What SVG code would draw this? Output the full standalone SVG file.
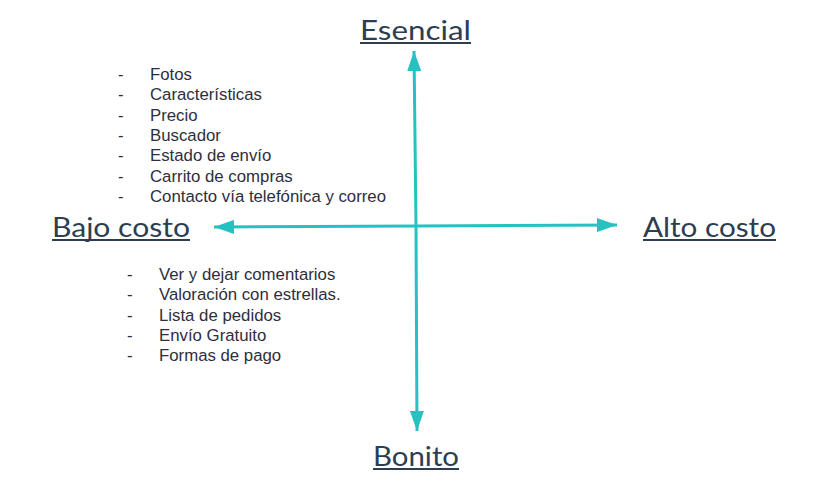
<svg xmlns="http://www.w3.org/2000/svg" width="817" height="479" viewBox="0 0 817 479">
<style>
.h{font-family:"Lato","Open Sans",sans-serif;font-size:27px;fill:#2c3e50;}
.u{stroke:#2c3e50;stroke-width:2;}
.l text{font-family:'Liberation Sans',Arimo,Arial,Helvetica,sans-serif;font-size:16.8px;fill:#2e2e3c;}
.ax{stroke:#26c1c1;stroke-width:3;fill:none;}
</style>
<defs>
<marker id="ah" viewBox="0 0 20 14" refX="20" refY="7" markerWidth="20" markerHeight="14" markerUnits="userSpaceOnUse" orient="auto">
<path d="M0,0 L20,7 L0,14 Z" fill="#26c1c1"/>
</marker>
</defs>
<rect width="817" height="479" fill="#fff"/>
<g id="connectors">
<line class="ax" x1="416" y1="226" x2="414" y2="51" marker-end="url(#ah)"/>
<line class="ax" x1="416" y1="226" x2="417" y2="431" marker-end="url(#ah)"/>
<line class="ax" x1="416" y1="226" x2="214" y2="227" marker-end="url(#ah)"/>
<line class="ax" x1="416" y1="226" x2="617" y2="225" marker-end="url(#ah)"/>
</g>
<g id="esencial">
<text class="h" x="360" y="40" textLength="111" lengthAdjust="spacingAndGlyphs">Esencial</text>
<line class="u" x1="360" y1="43" x2="471" y2="43"/>
</g>
<g id="bajo-costo">
<text class="h" x="52" y="237" textLength="138" lengthAdjust="spacingAndGlyphs">Bajo costo</text>
<line class="u" x1="52" y1="240" x2="190" y2="240"/>
</g>
<g id="alto-costo">
<text class="h" x="643" y="237" textLength="133" lengthAdjust="spacingAndGlyphs">Alto costo</text>
<line class="u" x1="643" y1="240" x2="776" y2="240"/>
</g>
<g id="bonito">
<text class="h" x="373" y="466" textLength="86" lengthAdjust="spacingAndGlyphs">Bonito</text>
<line class="u" x1="373" y1="469" x2="459" y2="469"/>
</g>
<g id="lista-esencial" class="l">
<text x="118" y="80">-</text><text x="150" y="80">Fotos</text>
<text x="118" y="100">-</text><text x="150" y="100">Características</text>
<text x="118" y="121">-</text><text x="150" y="121">Precio</text>
<text x="118" y="141">-</text><text x="150" y="141">Buscador</text>
<text x="118" y="161">-</text><text x="150" y="161">Estado de envío</text>
<text x="118" y="182">-</text><text x="150" y="182">Carrito de compras</text>
<text x="118" y="202">-</text><text x="150" y="202">Contacto vía telefónica y correo</text>
</g>
<g id="lista-bonito" class="l">
<text x="127" y="280">-</text><text x="159" y="280">Ver y dejar comentarios</text>
<text x="127" y="300">-</text><text x="159" y="300">Valoración con estrellas.</text>
<text x="127" y="321">-</text><text x="159" y="321">Lista de pedidos</text>
<text x="127" y="341">-</text><text x="159" y="341">Envío Gratuito</text>
<text x="127" y="361">-</text><text x="159" y="361">Formas de pago</text>
</g>
</svg>
